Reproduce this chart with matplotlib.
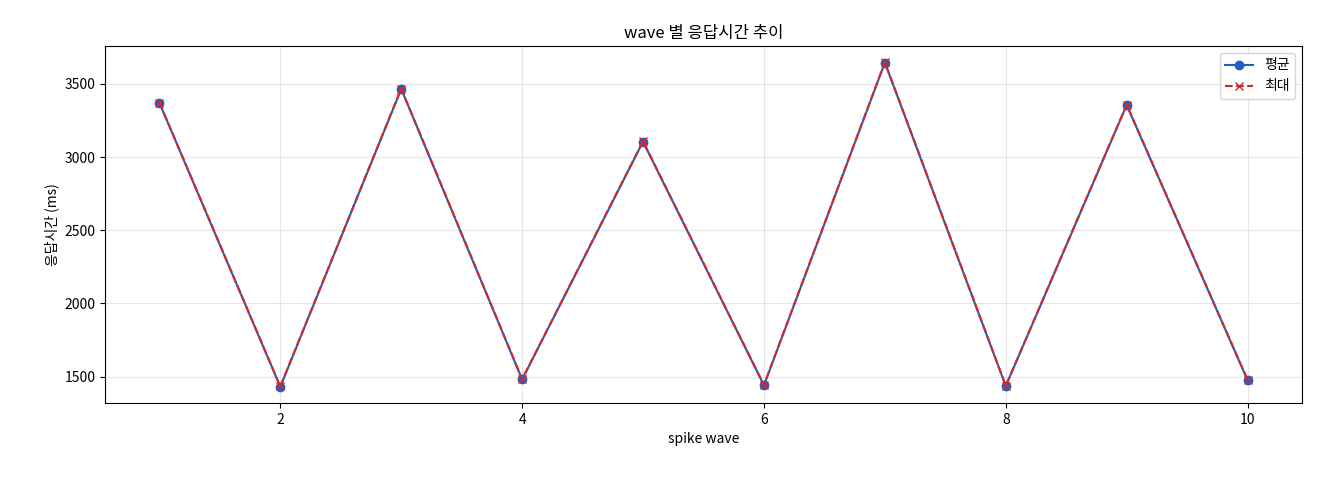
import matplotlib
matplotlib.use("Agg")
import matplotlib.pyplot as plt

plt.rcParams['font.family'] = ['Noto Sans CJK KR', 'DejaVu Sans']

waves = [1, 2, 3, 4, 5, 6, 7, 8, 9, 10]
avg = [3370, 1430, 3465, 1480, 3105, 1440, 3645, 1435, 3355, 1475]
mx = [3372, 1432, 3468, 1482, 3108, 1442, 3648, 1437, 3358, 1477]

fig = plt.figure(figsize=(13.2, 4.8), dpi=100)
ax = fig.add_axes([105/1320, 77/480, 1197/1320, 357/480])
ax.plot(waves, avg, '-o', color='#1f5fbf', markersize=6, label='평균')
ax.plot(waves, mx, '--x', color='#d62728', markersize=6, label='최대')
ax.set_title('wave 별 응답시간 추이')
ax.set_xlabel('spike wave')
ax.set_ylabel('응답시간 (ms)')
ax.grid(True, alpha=0.3)
ax.legend(loc='upper right')
fig.savefig('out.png', dpi=100)
